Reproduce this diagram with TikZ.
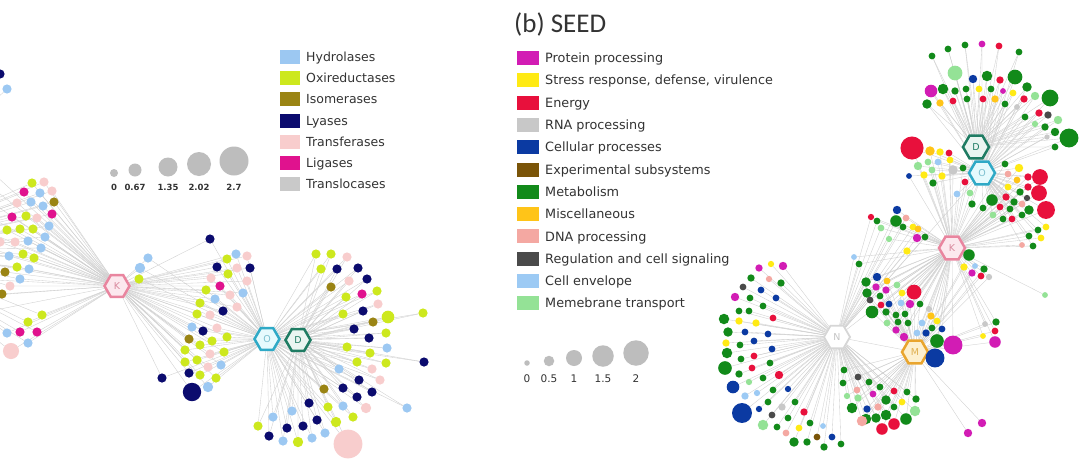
\documentclass[tikz,border=0pt]{standalone}
\usepackage{fontspec}
\setmainfont{DejaVu Sans}
\newfontfamily\titlefont{Carlito}
\usetikzlibrary{shapes.geometric}
\pgfdeclarelayer{background}
\pgfsetlayers{background,main}
% panel a colours
\definecolor{hyd}{HTML}{9CC8F2}
\definecolor{oxi}{HTML}{CDE81E}
\definecolor{iso}{HTML}{9A8414}
\definecolor{lya}{HTML}{0B0B6E}
\definecolor{tra}{HTML}{F8CDCD}
\definecolor{lig}{HTML}{E0128E}
\definecolor{trl}{HTML}{C9C9C9}
% panel b colours
\definecolor{pro}{HTML}{D21CB4}
\definecolor{str}{HTML}{FFEA14}
\definecolor{ene}{HTML}{E8103C}
\definecolor{rna}{HTML}{C8C8C8}
\definecolor{cel}{HTML}{0B3AA2}
\definecolor{expc}{HTML}{7A5408}
\definecolor{met}{HTML}{128A1A}
\definecolor{mis}{HTML}{FFC418}
\definecolor{dna}{HTML}{F4A8A2}
\definecolor{reg}{HTML}{4A4A4A}
\definecolor{env}{HTML}{9CCAF4}
\definecolor{mem}{HTML}{94E296}
\definecolor{legtext}{HTML}{333333}
\definecolor{sizegray}{HTML}{BDBDBD}
% hub colours
\definecolor{kdraw}{HTML}{E9859F}\definecolor{kfill}{HTML}{FCE8EE}\definecolor{ktext}{HTML}{D98A9E}
\definecolor{odraw}{HTML}{2FA9C6}\definecolor{ofill}{HTML}{E6FAFD}\definecolor{otext}{HTML}{7CBFCF}
\definecolor{ddraw}{HTML}{1F7C63}\definecolor{dfill}{HTML}{EAF5F1}
\definecolor{ndraw}{HTML}{D6D6D6}\definecolor{ntext}{HTML}{C4C4C4}
\definecolor{mdraw}{HTML}{E9A52E}\definecolor{mfill}{HTML}{FDF0CF}\definecolor{mtext}{HTML}{E0B050}
\tikzset{
  dot/.style={circle, inner sep=0pt, draw=none},
  conn/.style={draw=black!19, line width=0.35pt},
  hex/.style={regular polygon, regular polygon sides=6, minimum size=25, inner sep=0pt,
    line width=2.5pt, font=\fontsize{9.5}{9.5}\selectfont},
  lsq/.style={rectangle, inner sep=0pt, minimum width=20, minimum height=14},
  ltexta/.style={anchor=base west, inner sep=0pt, text=legtext, font=\fontsize{12.5}{14}\selectfont},
  ltextb/.style={anchor=base west, inner sep=0pt, text=legtext, font=\fontsize{12.8}{14}\selectfont},
  sizedot/.style={circle, inner sep=0pt, fill=sizegray},
}
\newcommand\mknodes[3]{%
  \foreach \x/\y/\cc/\dd [count=\i] in #2 {%
    \node[dot, fill=\cc, minimum size={\dd*#3}] (#1\i) at (\x,\y) {};}}
\newcommand\mkedges[3]{%
  \foreach \x/\y/\cc/\dd [count=\i] in #3 {%
    \foreach \hh in {#2} {\draw[conn] (\hh) -- (#1\i);}}}
% ---- data ----
\newcommand\Lla{32/183/oxi/8, 44/182/tra/8, 24/192/lig/8, 40/193/hyd/8, 52/191/tra/8, 17/203/tra/8, 31/202/hyd/8, 43/206/hyd/8, 54/202/iso/8, 12/217/lig/8, 26/216/oxi/8, 37/218/tra/8, 52/214/lig/8, 7/230/oxi/8, 20/229/oxi/8, 33/229/oxi/8, 49/226/hyd/8, 0/242/tra/8, 15/242/tra/8, 28/241/hyd/8, 45/237/hyd/8, 9/256/hyd/8, 23/254/oxi/8, 34/258/oxi/8, 41/248/hyd/8, 5/272/iso/8, 17/267/oxi/8, 29/269/hyd/8, 20/279/hyd/8, 10/286/tra/8, 2/294/iso/8, 42/315/oxi/8, 28/322/oxi/8, 20/332/lig/8, 37/332/lig/8, 7/333/hyd/8, 28/343/hyd/8, 11/351/tra/14}
\newcommand\Llb{0/74/lya/8, 7/89/hyd/8}
\newcommand\Lnk{148/258/hyd/8, 140/268/hyd/9, 139/279/oxi/8, 210/239/lya/8, 162/378/lya/8}
\newcommand\Lma{236/254/hyd/8, 247/256/tra/8, 227/259/oxi/8, 217/267/lya/8, 228/274/oxi/8, 237/268/tra/8, 250/268/lya/8, 247/281/tra/8, 211/278/tra/8, 220/286/lig/8, 206/290/oxi/8, 243/293/hyd/8, 230/295/tra/8, 200/303/oxi/8, 215/299/hyd/8, 237/307/tra/8, 223/311/lya/8, 197/314/oxi/8, 210/315/tra/8, 192/327/hyd/8, 203/331/lya/8, 217/328/tra/8, 227/337/oxi/8, 189/339/iso/8, 200/345/oxi/8, 212/341/oxi/8, 185/350/oxi/8, 210/354/tra/8, 224/352/oxi/8, 185/362/oxi/8, 197/360/oxi/8, 221/365/hyd/8, 208/367/tra/8, 189/373/lya/8, 200/375/oxi/8, 216/378/oxi/8, 192/392/lya/16, 208/387/hyd/9}
\newcommand\Lra{316/254/oxi/8, 331/254/oxi/8, 347/257/tra/8, 321/269/oxi/8, 337/269/lya/8, 358/268/lya/8, 367/279/lya/8, 349/281/tra/8, 331/287/iso/8, 362/294/lig/8, 377/291/oxi/8, 346/297/oxi/8, 378/304/tra/8, 363/311/lya/8, 388/317/oxi/11, 423/313/oxi/8, 343/314/oxi/8, 373/322/iso/8, 354/329/lya/8, 386/333/oxi/8, 369/338/lya/8, 387/348/hyd/8, 347/347/oxi/8, 370/353/oxi/8, 357/362/oxi/8, 386/363/oxi/8, 424/362/lya/8, 339/369/hyd/8, 372/369/tra/8, 359/380/lya/8, 380/380/tra/8, 324/389/iso/8, 343/388/lya/8, 372/392/lya/8, 357/397/lya/8, 407/408/hyd/8, 309/403/lya/8, 328/407/oxi/8, 343/406/hyd/8, 366/408/tra/9, 292/411/hyd/8, 317/420/lya/8, 336/422/oxi/9, 353/417/oxi/8, 273/417/hyd/8, 303/426/lya/8, 287/428/lya/8, 258/426/oxi/8, 325/433/hyd/8, 269/436/lya/8, 283/441/hyd/8, 298/442/oxi/9, 312/438/hyd/8, 348/444/tra/25}
\newcommand\Ltb{932/56/met/6.5, 948/49/met/6.5, 965/45/met/6.5, 982/44/pro/6.5, 999/46/ene/6.5, 1019/52/met/6.5, 955/73/mem/14, 973/79/cel/8, 987/76/met/10, 1000/80/ene/7, 1015/77/met/14, 931/91/pro/12, 943/89/met/10, 955/91/met/7, 966/89/met/6.5, 979/89/str/6.5, 991/89/met/6.5, 1003/91/pro/5.5, 1013/93/str/6.5, 1027/87/met/9, 927/104/met/9, 940/103/mis/7, 953/101/ene/6.5, 967/99/met/6.5, 983/99/ene/6.5, 995/99/mis/7, 1005/104/met/6.5, 1017/107/rna/5.5, 1024/99/ene/7, 1035/96/mem/8, 1050/98/met/16, 1025/117/met/6.5, 1039/113/ene/7, 1048/115/reg/7, 1058/120/mem/8, 1045/127/met/7, 1055/132/met/8, 1035/124/mem/6, 1047/137/rna/5, 1069/138/met/18, 1055/147/met/6.5}
\newcommand\Lldb{912/148/ene/22, 930/151/mis/9, 940/152/str/7, 949/153/ene/6.5, 918/166/mem/8, 928/162/mem/6.5, 938/162/env/6.5, 950/160/str/6.5, 909/176/cel/5.5, 924/175/str/7, 932/170/mem/6.5, 942/176/str/7, 953/170/rna/9, 933/183/met/7, 963/168/met/6.5, 965/182/ene/6.5, 970/193/mem/6.5, 957/194/env/6.5}
\newcommand\Lrob{1005/164/met/6.5, 1019/168/str/8, 1028/177/ene/7, 1040/177/ene/15, 1008/174/dna/6.5, 1017/180/mis/6.5, 1008/187/str/6.5, 1028/187/ene/7, 1020/192/met/7, 1039/193/ene/15, 1027/198/reg/6, 992/200/met/11, 1006/197/ene/7, 1014/202/met/7, 972/204/met/7, 1022/204/dna/6.5, 1000/207/ene/6.5, 1010/209/met/6.5, 1029/210/met/9, 1046/210/ene/17, 983/208/met/6.5, 1003/219/met/6.5, 1012/219/ene/6.5, 1022/215/met/6.5, 993/215/mem/6.5, 1046/227/str/6.5, 1038/230/met/6.5, 1041/238/str/6.5, 1029/236/met/6.5, 1022/245/dna/5.5, 1033/246/met/6.5}
\newcommand\Lukb{897/210/cel/8, 871/217/ene/6, 877/221/met/6.5, 896/221/met/11, 906/218/dna/6.5, 881/228/mem/6.5, 903/227/met/6.5, 913/227/str/6.5, 918/229/mis/6.5, 925/237/met/6.5, 917/238/pro/8, 889/239/mem/6, 907/251/str/7, 854/257/env/5.5, 859/264/met/6.5}
\newcommand\Lrkb{969/255/met/11, 964/267/str/7, 975/266/env/5.5, 984/269/met/7, 972/273/pro/7, 981/276/ene/6.5, 989/277/rna/6}
\newcommand\Lskb{1045/295/mem/5.5}
\newcommand\Lkmb{877/277/cel/8, 866/282/met/9, 887/281/mis/6.5, 867/293/met/9, 876/287/pro/7, 886/290/pro/7, 897/285/mem/6.5, 902/293/str/6.5, 914/292/ene/14, 870/300/reg/6.5, 880/296/met/6.5, 881/305/ene/6.5, 889/304/cel/6.5, 901/303/env/6.5, 910/304/pro/8, 920/304/met/6.5, 872/312/met/12, 886/312/met/7, 896/315/met/6.5, 905/314/met/6.5, 887/323/mem/6.5, 898/322/met/6.5, 908/323/met/6.5, 922/323/env/6.5, 931/316/mis/7, 937/321/str/6.5, 929/309/rna/6, 896/330/pro/7, 904/337/pro/8, 917/333/env/6.5, 926/333/cel/7, 932/328/met/6.5, 942/329/cel/6.5, 937/341/met/13, 953/345/pro/18, 935/358/cel/18, 985/324/rna/5.5, 983/336/str/5.5, 996/322/met/7, 995/331/ene/6.5, 995/342/pro/11}
\newcommand\Lmob{982/423/pro/8, 968/433/pro/8}
\newcommand\Llfb{759/268/pro/7, 771/264/str/6, 783/266/pro/8, 751/278/met/7, 769/279/dna/6, 781/283/met/7, 743/287/reg/6.5, 761/290/cel/6.5, 776/298/cel/6.5, 735/297/pro/8, 750/298/met/6.5, 739/311/met/6.5, 749/311/met/6.5, 763/306/met/6.5, 724/319/met/10, 739/321/str/7, 756/323/str/7, 773/318/ene/6.5, 728/332/met/9, 745/332/cel/6.5, 768/334/cel/6.5, 726/343/str/7, 740/345/met/6.5, 754/341/cel/6.5, 772/349/cel/6.5, 727/353/met/10, 741/359/met/6.5, 754/356/ene/6.5, 770/363/met/6.5, 725/368/met/13, 752/368/ene/6.5, 739/374/met/7, 763/378/met/6.5, 779/375/ene/8, 749/382/mem/6, 788/389/cel/6, 733/387/cel/12, 757/393/env/6, 773/390/met/6.5, 745/396/env/7, 768/402/met/6.5, 782/407/rna/7, 795/402/met/6.5, 742/413/cel/19, 759/409/cel/6, 772/415/reg/6.5, 804/412/ene/7, 788/418/met/6.5, 763/425/mem/10, 777/427/met/6.5, 799/428/str/6.5, 786/433/dna/6.5, 810/423/met/6.5, 823/426/env/5.5, 794/442/met/9, 807/442/met/7, 817/437/expc/6.5, 832/437/cel/6.5, 824/447/met/7, 841/444/met/6.5}
\newcommand\Llcb{844/370/met/6.5, 843/383/met/6.5, 858/377/reg/6.5, 857/390/dna/6.5, 869/382/met/6.5, 858/398/mem/7, 847/396/mem/6, 880/387/met/6.5, 873/394/pro/6.5, 852/408/met/10, 867/409/cel/7, 878/407/dna/7, 886/400/met/9, 894/391/ene/6.5, 907/392/met/6.5, 902/402/str/6.5, 894/407/met/6.5, 916/399/met/7, 915/411/mem/10, 866/419/met/10, 876/418/met/9, 886/415/met/10, 906/419/met/11, 862/421/dna/10, 882/429/ene/11, 894/424/ene/11}
\begin{document}
\begin{tikzpicture}[x=1pt,y=-1pt]
\useasboundingbox (0,0) rectangle (1080,461);
\clip (0,0) rectangle (1080,461);

% ---------- hubs ----------
\node[hex, draw=kdraw, fill=kfill, text=ktext] (Ka) at (117,286) {K};
\node[hex, draw=odraw, fill=ofill, text=otext] (Oa) at (267,339) {O};
\node[hex, draw=ddraw, fill=dfill, text=ddraw] (Da) at (298,340) {D};
\coordinate (LA) at (-120,250);
\coordinate (LB) at (-60,150);
\node[hex, minimum size=26, draw=ddraw, fill=dfill, text=ddraw] (Db) at (976,147) {D};
\node[hex, minimum size=26, draw=odraw, fill=ofill, text=otext] (Ob) at (982,173) {O};
\node[hex, minimum size=26, draw=kdraw, fill=kfill, text=ktext] (Kb) at (952,248) {K};
\node[hex, minimum size=26, draw=ndraw, fill=white, text=ntext, line width=1.8pt] (Nb) at (837,337) {N};
\node[hex, minimum size=26, draw=mdraw, fill=mfill, text=mtext] (Mb) at (915,352) {M};

% ---------- dots ----------
\mknodes{la}{\Lla}{1.15}
\mknodes{lb}{\Llb}{1.15}
\mknodes{nk}{\Lnk}{1.15}
\mknodes{ma}{\Lma}{1.15}
\mknodes{ra}{\Lra}{1.15}
\mknodes{tb}{\Ltb}{1.05}
\mknodes{ldb}{\Lldb}{1.05}
\mknodes{rob}{\Lrob}{1.05}
\mknodes{ukb}{\Lukb}{1.05}
\mknodes{rkb}{\Lrkb}{1.05}
\mknodes{skb}{\Lskb}{1.05}
\mknodes{kmb}{\Lkmb}{1.05}
\mknodes{mob}{\Lmob}{1.05}
\mknodes{lfb}{\Llfb}{1.05}
\mknodes{lcb}{\Llcb}{1.05}

% ---------- connectors ----------
\begin{pgfonlayer}{background}
\fill[white] (0,0) rectangle (1080,461);
\draw[conn] (Ka) -- (Oa);
\foreach \yy in {175,190,205,220,235,250,265,280,295,310} {\draw[conn] (Ka) -- (-5,\yy);}
\mkedges{la}{Ka,LA}{\Lla}
\mkedges{lb}{LB}{\Llb}
\mkedges{nk}{Ka,Oa}{\Lnk}
\mkedges{ma}{Oa,Ka}{\Lma}
\mkedges{ra}{Da,Oa}{\Lra}
\draw[conn] (Nb) -- (Kb); \draw[conn] (Nb) -- (Mb); \draw[conn] (Kb) -- (Ob);
\draw[conn] (Kb) -- (Db); \draw[conn] (Mb) -- (Kb); \draw[conn] (Nb) -- (Ob);
\mkedges{tb}{Db,Ob}{\Ltb}
\mkedges{ldb}{Ob,Kb}{\Lldb}
\mkedges{rob}{Ob,Kb}{\Lrob}
\mkedges{ukb}{Kb,Nb}{\Lukb}
\mkedges{rkb}{Kb,Mb}{\Lrkb}
\mkedges{skb}{Kb}{\Lskb}
\mkedges{kmb}{Kb,Mb}{\Lkmb}
\mkedges{mob}{Mb}{\Lmob}
\mkedges{lfb}{Nb}{\Llfb}
\mkedges{lcb}{Nb,Mb}{\Llcb}
\end{pgfonlayer}

% ---------- legend panel a ----------
\foreach \t/\cc [count=\i] in {Hydrolases/hyd, Oxireductases/oxi, Isomerases/iso, Lyases/lya, Transferases/tra, Ligases/lig, Translocases/trl} {
  \node[lsq, fill=\cc] (lsa\i) at (290,{57+(\i-1)*21.2}) {};
  \node[ltexta] (lta\i) at (306,{61.5+(\i-1)*21.2}) {\t};
}
\foreach \xx/\yy/\dd/\t [count=\i] in {114/173/8/0, 135/170/13/0.67, 168/167/19/1.35, 199/164/24/2.02, 234/161/29/2.7} {
  \node[sizedot, minimum size=\dd] (sza\i) at (\xx,\yy) {};
  \node[text=legtext, inner sep=0pt, font=\bfseries\fontsize{8.5}{9}\selectfont] (szl\i) at (\xx,187) {\t};
}

% ---------- panel b title and legend ----------
\node[anchor=base west, inner sep=0pt, text=legtext, font=\titlefont\fontsize{27}{30}\selectfont] (title) at (514,32) {(b) SEED};
\foreach \t/\cc [count=\i] in {Protein processing/pro, {Stress response, defense, virulence}/str, Energy/ene, RNA processing/rna, Cellular processes/cel, Experimental subsystems/expc, Metabolism/met, Miscellaneous/mis, DNA processing/dna, Regulation and cell signaling/reg, Cell envelope/env, Memebrane transport/mem} {
  \node[lsq, minimum width=22, fill=\cc] (lsb\i) at (528,{58+(\i-1)*22.3}) {};
  \node[ltextb] (ltb\i) at (545,{62.6+(\i-1)*22.3}) {\t};
}
\foreach \xx/\yy/\dd/\t [count=\i] in {527/363/5.5/0, 549/361/10.5/0.5, 574/358/16/1, 603/356/21.5/1.5, 636/353/25.5/2} {
  \node[sizedot, minimum size=\dd] (szb\i) at (\xx,\yy) {};
  \node[text=legtext, inner sep=0pt, font=\fontsize{10.5}{11}\selectfont] (szm\i) at (\xx,379) {\t};
}
\end{tikzpicture}
\end{document}
